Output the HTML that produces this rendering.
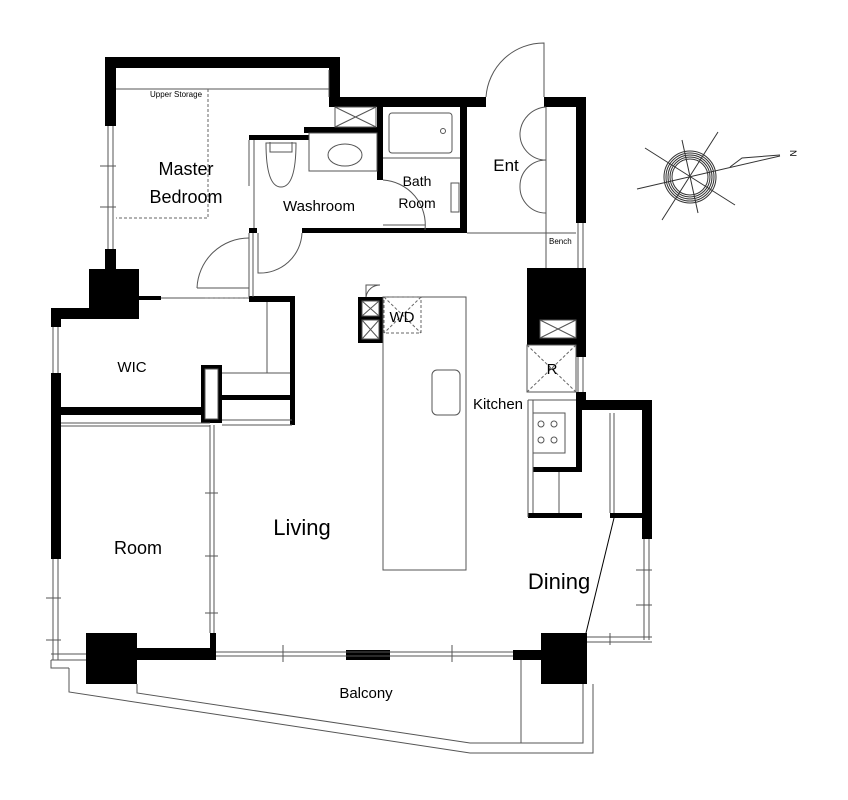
<!DOCTYPE html>
<html><head><meta charset="utf-8"><style>
html,body{margin:0;padding:0;background:#fff}
svg{display:block}
text{font-family:"Liberation Sans",sans-serif;fill:#000}
</style></head><body>
<svg width="848" height="800" viewBox="0 0 848 800" xmlns="http://www.w3.org/2000/svg">
<g fill="#000">
<!-- master bedroom walls -->
<rect x="105" y="57" width="235" height="11"/>
<rect x="105" y="57" width="11" height="69"/>
<rect x="105" y="249" width="11" height="21"/>
<rect x="329" y="57" width="11" height="50"/>
<rect x="329" y="97" width="157" height="10"/>
<rect x="544" y="97" width="42" height="10"/>
<rect x="576" y="97" width="10" height="126"/>
<!-- column top-left -->
<rect x="89" y="269" width="50" height="50"/>
<rect x="51" y="308" width="88" height="11"/>
<rect x="139" y="296" width="22" height="4"/>
<!-- washroom -->
<rect x="249" y="135" width="60" height="5"/>
<rect x="304" y="127" width="79" height="6"/>
<rect x="377" y="107" width="6" height="73"/>
<rect x="460" y="107" width="7" height="126"/>
<rect x="302" y="228" width="165" height="5"/>
<rect x="249" y="228" width="8" height="5"/>
<rect x="249" y="296" width="46" height="6"/>
<rect x="290" y="296" width="5" height="129"/>
<rect x="222" y="395" width="70" height="5"/>
<rect x="201" y="365" width="21" height="58"/>
<rect x="51" y="407" width="150" height="8"/>
<rect x="51" y="308" width="10" height="19"/>
<rect x="51" y="373" width="10" height="186"/>
<!-- right column -->
<rect x="527" y="268" width="59" height="77"/>
<rect x="576" y="345" width="10" height="12"/>
<!-- kitchen right -->
<rect x="576" y="392" width="10" height="10"/>
<rect x="582" y="400" width="70" height="10"/>
<rect x="576" y="400" width="6" height="72"/>
<rect x="642" y="400" width="10" height="139"/>
<rect x="533" y="467" width="49" height="5"/>
<rect x="528" y="513" width="54" height="5"/>
<rect x="610" y="513" width="42" height="5"/>
<!-- WD -->
<rect x="358" y="297" width="25" height="46"/>
<!-- bottom -->
<rect x="86" y="633" width="51" height="51"/>
<rect x="137" y="648" width="79" height="12"/>
<rect x="210" y="633" width="6" height="27"/>
<rect x="346" y="650" width="44" height="10"/>
<rect x="513" y="650" width="34" height="10"/>
<rect x="541" y="633" width="46" height="51"/>
</g>
<g fill="#fff" stroke="#555" stroke-width="1">
<rect x="362" y="301" width="17" height="15"/>
<rect x="362" y="320" width="17" height="19"/>
<rect x="205" y="369" width="13" height="50"/>
<rect x="540" y="320" width="36" height="18"/>
</g>
<g stroke="#555" stroke-width="1" fill="none">
<path d="M362 301 L379 316 M379 301 L362 316 M362 320 L379 339 M379 320 L362 339"/>
<path d="M540 320 L576 338 M576 320 L540 338"/>
<!-- crossed box near washroom -->
<rect x="335" y="107" width="41" height="20"/>
<path d="M335 107 L376 127 M376 107 L335 127"/>
<!-- master windows -->
<path d="M108 126 V249 M113 126 V249 M100 166 H116 M100 207 H116"/>
<path d="M116 89 H329 M329 70 V97"/>
<!-- bath -->
<rect x="389" y="113" width="63" height="40" rx="3"/>
<circle cx="443" cy="131" r="2.5"/>
<path d="M383 158 H460"/>
<rect x="451" y="183" width="8" height="29"/>
<path d="M383 180 A45 45 0 0 1 425 230"/>
<path d="M383 225 H425"/>
<!-- washroom -->
<path d="M254 140 V228 M249 140 V186"/>
<rect x="309" y="133" width="68" height="38"/>
<ellipse cx="345" cy="155" rx="17" ry="11"/>
<path d="M266 143 Q266 187 281 187 Q296 187 296 143 Z"/>
<path d="M270 142 V152 H292 V142"/>
<!-- hall doors -->
<path d="M258 233 V273 A42 42 0 0 0 302 233"/>
<path d="M249 233 V297 M253 233 V297"/>
<path d="M197 288 H249 M197 288 A52 52 0 0 1 249 238"/>
<path d="M161 298 H249"/>
<!-- WIC -->
<path d="M267 302 V373 H290 M222 373 H290 M222 420 H292 M222 425 H292"/>
<path d="M53 327 V373 M58 327 V373"/>
<!-- Ent -->
<path d="M486 97 A58 58 0 0 1 544 43 V97"/>
<path d="M546 107 V268 M467 233 H576 M546 233 H576"/>
<path d="M546 107 A28 28 0 0 0 520 133 A26 26 0 0 0 546 160 A26 26 0 0 0 520 186 A26 26 0 0 0 546 213"/>
<path d="M546 145 V145"/>
<path d="M578 223 V268 M583 223 V268"/>
<!-- island -->
<path d="M366 297 A14 14 0 0 1 380 285 H366 V297" />
<rect x="383" y="297" width="83" height="273"/>
<rect x="432" y="370" width="28" height="45" rx="5"/>
<!-- R -->
<rect x="527" y="345" width="49" height="47"/>
<path d="M578 357 V392 M583 357 V392"/>
<!-- kitchen counter -->
<path d="M528 400 V517 M533 400 V513 M528 400 H576"/>
<rect x="533" y="413" width="32" height="40"/>
<circle cx="541" cy="424" r="3"/><circle cx="554" cy="424" r="3"/>
<circle cx="541" cy="440" r="3"/><circle cx="554" cy="440" r="3"/>
<path d="M559 472 V513"/>
<path d="M610 413 V513 M614 413 V513"/>
<!-- right windows -->
<path d="M644 539 V640 M649 539 V640 M636 570 H652 M636 605 H652"/>
<path d="M587 637 H652 M587 642 H652 M610 633 V645"/>
<!-- room partition -->
<path d="M61 423 H210 M61 426 H210 M210 425 V633 M214 425 V633 M205 493 H218 M205 556 H218 M205 613 H218"/>
<path d="M53 559 V660 M58 559 V660 M46 598 H61 M46 640 H61"/>
<path d="M51 654 H86 M51 660 H86 M51 660 V668 H69"/>
<!-- bottom windows -->
<path d="M216 652 H513 M216 656 H513 M283 645 V662 M452 645 V662"/>
<!-- balcony -->
<path d="M69 668 V692 L470 753 H593 V684"/>
<path d="M137 684 V693 L470 743 H583 V684"/>
<path d="M521 660 V743"/>
</g>
<g stroke="#666" stroke-width="1" fill="none" stroke-dasharray="3,2">
<path d="M208 89 V218 H116"/>
<rect x="384" y="297" width="37" height="36"/>
<path d="M384 297 L421 333 M421 297 L384 333"/>
<path d="M527 345 L576 392 M576 345 L527 392"/>
<path d="M205 298 H249"/>
</g>
<path d="M614 518 L586 633" stroke="#000" stroke-width="1"/>
<!-- compass -->
<g stroke="#333" stroke-width="1" fill="none">
<circle cx="690" cy="177" r="18"/><circle cx="690" cy="177" r="20"/><circle cx="690" cy="177" r="22"/><circle cx="690" cy="177" r="24"/><circle cx="690" cy="177" r="26"/>
<path d="M718 132 L662 220 M682 140 L698 213 M645 148 L735 205 M637 189 L780 156"/>
<path d="M730 167 L742 158 L780 155"/>
</g>
<text x="789" y="157" font-size="9" transform="rotate(90 793 154)">N</text>
<!-- labels -->
<text x="150" y="97" font-size="8">Upper Storage</text>
<text x="186" y="175" font-size="18" text-anchor="middle">Master</text>
<text x="186" y="203" font-size="18" text-anchor="middle">Bedroom</text>
<text x="319" y="211" font-size="15" text-anchor="middle">Washroom</text>
<text x="417" y="186" font-size="14" text-anchor="middle">Bath</text>
<text x="417" y="208" font-size="14" text-anchor="middle">Room</text>
<text x="506" y="171" font-size="17" text-anchor="middle">Ent</text>
<text x="549" y="244" font-size="8">Bench</text>
<text x="402" y="322" font-size="15" text-anchor="middle">WD</text>
<text x="552" y="374" font-size="15" text-anchor="middle">R</text>
<text x="498" y="409" font-size="15" text-anchor="middle">Kitchen</text>
<text x="132" y="372" font-size="15" text-anchor="middle">WIC</text>
<text x="138" y="554" font-size="18" text-anchor="middle">Room</text>
<text x="302" y="535" font-size="22" text-anchor="middle">Living</text>
<text x="559" y="589" font-size="22" text-anchor="middle">Dining</text>
<text x="366" y="698" font-size="15" text-anchor="middle">Balcony</text>
</svg>
</body></html>
